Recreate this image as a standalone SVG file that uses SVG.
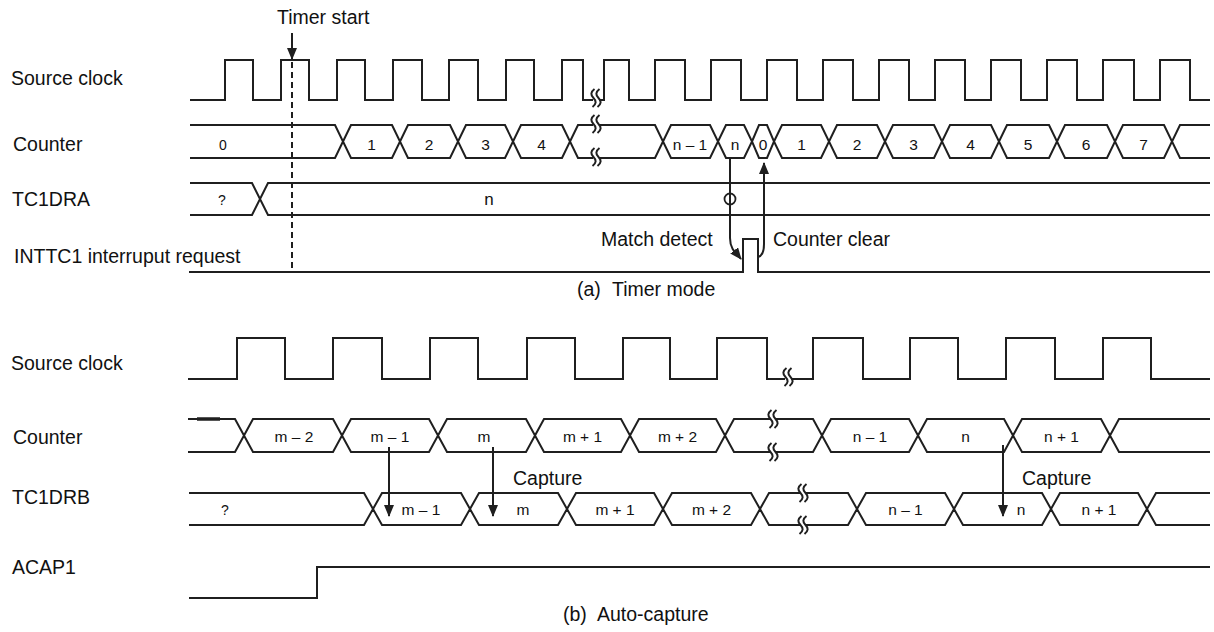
<svg xmlns="http://www.w3.org/2000/svg" width="1214" height="632" viewBox="0 0 1214 632">
<style>
  .sig{fill:none;stroke:#1f1f1f;stroke-width:2;stroke-linejoin:miter}
  .lbl{font-family:"Liberation Sans",Arial,sans-serif;font-size:19.5px;fill:#111}
  .val{font-family:"Liberation Sans",Arial,sans-serif;font-size:15.5px;fill:#111;text-anchor:middle}
  .sm{font-size:14px}
  .big{font-size:17px}
  .con{fill:none;stroke:#1f1f1f;stroke-width:2}
  .dash{fill:none;stroke:#1f1f1f;stroke-width:2;stroke-dasharray:6 4}
  .brkw{fill:#fff;stroke:none}
  .brkl{fill:none;stroke:#1f1f1f;stroke-width:2}
</style>
<defs>
  <marker id="ah" viewBox="0 0 12 10" markerWidth="12" markerHeight="10" refX="11" refY="5" orient="auto" markerUnits="userSpaceOnUse">
    <path d="M0,0 L12,5 L0,10 Z" fill="#1f1f1f"/>
  </marker>
  <g id="brk">
    <rect class="brkw" x="-3" y="-4" width="6" height="8"/>
    <path class="brkl" d="M-1.5,-9 C-5.5,-6 -5.5,-3 -2.5,0 C0.5,3 0.5,6 -3.5,9"/>
    <path class="brkl" d="M3.5,-9 C-0.5,-6 -0.5,-3 2.5,0 C5.5,3 5.5,6 1.5,9"/>
  </g>
</defs>

<rect width="1214" height="632" fill="#fff"/>

<!-- ===== (a) Timer mode ===== -->
<text class="lbl" x="277" y="24">Timer start</text>

<g id="a-source-clock">
  <text class="lbl" x="11" y="85">Source clock</text>
  <path class="sig" d="M190,100 H225 V60 H253 V100 H281 V60 H309 V100 H337 V60 H365 V100 H393 V60 H422 V100 H449 V60 H478 V100 H506 V60 H534 V100 H562 V60 H583 V100 H604 V60 H629 V100 H655 V60 H685 V100 H711 V60 H741 V100 H767 V60 H797 V100 H823 V60 H853 V100 H879 V60 H909 V100 H935 V60 H965 V100 H991 V60 H1021 V100 H1047 V60 H1077 V100 H1103 V60 H1134 V100 H1160 V60 H1190 V100 H1210"/>
  <use href="#brk" x="596" y="98"/>
</g>

<g id="a-counter">
  <text class="lbl" x="13" y="151">Counter</text>
  <path class="sig" d="M190,125 H335 L343,141.5 L335,158 H190
    M343,141.5 L351,125 H392 L400,141.5 L392,158 H351 Z
    M400,141.5 L408,125 H450 L458,141.5 L450,158 H408 Z
    M458,141.5 L466,125 H505 L513,141.5 L505,158 H466 Z
    M513,141.5 L521,125 H562 L570,141.5 L562,158 H521 Z
    M570,141.5 L578,125 H655 L663,141.5 L655,158 H578 Z
    M663,141.5 L671,125 H710 L718,141.5 L710,158 H671 Z
    M718,141.5 L726,125 H744 L752,141.5 L744,158 H726 Z
    M752,141.5 L759,125 H767 L774,141.5 L767,158 H759 Z
    M774,141.5 L782,125 H821 L829,141.5 L821,158 H782 Z
    M829,141.5 L837,125 H877 L885,141.5 L877,158 H837 Z
    M885,141.5 L893,125 H934 L942,141.5 L934,158 H893 Z
    M942,141.5 L950,125 H991 L999,141.5 L991,158 H950 Z
    M999,141.5 L1007,125 H1049 L1057,141.5 L1049,158 H1007 Z
    M1057,141.5 L1065,125 H1107 L1115,141.5 L1107,158 H1065 Z
    M1115,141.5 L1123,125 H1164 L1172,141.5 L1164,158 H1123 Z
    M1210,125 H1180 L1172,141.5 L1180,158 H1210"/>
  <use href="#brk" x="596" y="124"/>
  <use href="#brk" x="596" y="157"/>
  <text class="val sm" x="223" y="150">0</text>
  <text class="val" x="371.5" y="149.5">1</text>
  <text class="val" x="429" y="149.5">2</text>
  <text class="val" x="485.5" y="149.5">3</text>
  <text class="val" x="541.5" y="149.5">4</text>
  <text class="val" x="690" y="149.5">n – 1</text>
  <text class="val" x="735" y="149.5">n</text>
  <text class="val" x="763" y="149.5">0</text>
  <text class="val" x="801.5" y="149.5">1</text>
  <text class="val" x="857" y="149.5">2</text>
  <text class="val" x="913.5" y="149.5">3</text>
  <text class="val" x="970.5" y="149.5">4</text>
  <text class="val" x="1028" y="149.5">5</text>
  <text class="val" x="1086" y="149.5">6</text>
  <text class="val" x="1143.5" y="149.5">7</text>
</g>

<g id="a-tc1dra">
  <text class="lbl" x="12" y="206">TC1DRA</text>
  <path class="sig" d="M190,183 H252 L260,199 L252,215 H190 M1210,183 H268 L260,199 L268,215 H1210"/>
  <text class="val sm" x="222" y="205">?</text>
  <text class="val big" x="489" y="205">n</text>
  <circle cx="730" cy="199" r="5.5" fill="none" stroke="#1f1f1f" stroke-width="1.8"/>
</g>

<g id="a-inttc1">
  <text class="lbl" x="14" y="263">INTTC1 interruput request</text>
  <path class="sig" d="M189,272 H743 V239 H758 V272 H1210"/>
  <text class="lbl" x="601" y="246">Match detect</text>
  <text class="lbl" x="773" y="246">Counter clear</text>
</g>

<text class="lbl" y="296"><tspan x="577">(a)</tspan><tspan x="612">Timer mode</tspan></text>

<!-- ===== (b) Auto-capture ===== -->
<g id="b-source-clock">
  <text class="lbl" x="11" y="370">Source clock</text>
  <path class="sig" d="M188,379 H237 V338 H285 V379 H333 V338 H382 V379 H430 V338 H478 V379 H527 V338 H575 V379 H623 V338 H670 V379 H717 V338 H767 V379 H813 V338 H863 V379 H910 V338 H958 V379 H1006 V338 H1055 V379 H1103 V338 H1151 V379 H1210"/>
  <use href="#brk" x="788" y="377"/>
</g>

<g id="b-counter">
  <text class="lbl" x="13" y="444">Counter</text>
  <path class="sig" d="M188,419 H235 L244,435.5 L235,452 H188
    M244,435.5 L253,419 H333 L342,435.5 L333,452 H253 Z
    M342,435.5 L351,419 H429 L438,435.5 L429,452 H351 Z
    M438,435.5 L447,419 H526 L535,435.5 L526,452 H447 Z
    M535,435.5 L544,419 H621 L630,435.5 L621,452 H544 Z
    M630,435.5 L639,419 H716 L725,435.5 L716,452 H639 Z
    M725,435.5 L734,419 H813 L822,435.5 L813,452 H734 Z
    M822,435.5 L831,419 H909 L918,435.5 L909,452 H831 Z
    M918,435.5 L927,419 H1004 L1013,435.5 L1004,452 H927 Z
    M1013,435.5 L1022,419 H1101 L1110,435.5 L1101,452 H1022 Z
    M1210,419 H1119 L1110,435.5 L1119,452 H1210"/>
  <path d="M197,419 H220" stroke="#1f1f1f" stroke-width="3.5"/>
  <use href="#brk" x="773" y="419"/>
  <use href="#brk" x="773" y="452"/>
  <text class="val" x="294" y="442">m – 2</text>
  <text class="val" x="390" y="442">m – 1</text>
  <text class="val" x="484" y="442">m</text>
  <text class="val" x="582.5" y="442">m + 1</text>
  <text class="val" x="677.5" y="442">m + 2</text>
  <text class="val" x="870" y="442">n – 1</text>
  <text class="val" x="965.5" y="442">n</text>
  <text class="val" x="1061.5" y="442">n + 1</text>
</g>

<g id="b-tc1drb">
  <text class="lbl" x="12" y="504">TC1DRB</text>
  <path class="sig" d="M189,493 H364 L373,509 L364,525 H189
    M373,509 L382,493 H461 L470,509 L461,525 H382 Z
    M470,509 L479,493 H558 L567,509 L558,525 H479 Z
    M567,509 L576,493 H654 L663,509 L654,525 H576 Z
    M663,509 L672,493 H751 L760,509 L751,525 H672 Z
    M760,509 L769,493 H848 L857,509 L848,525 H769 Z
    M857,509 L866,493 H945 L954,509 L945,525 H866 Z
    M954,509 L963,493 H1042 L1051,509 L1042,525 H963 Z
    M1051,509 L1060,493 H1138 L1147,509 L1138,525 H1060 Z
    M1210,493 H1156 L1147,509 L1156,525 H1210"/>
  <use href="#brk" x="803" y="493"/>
  <use href="#brk" x="803" y="525"/>
  <text class="val sm" x="225" y="515">?</text>
  <text class="val" x="421" y="515">m – 1</text>
  <text class="val" x="523" y="515">m</text>
  <text class="val" x="615" y="515">m + 1</text>
  <text class="val" x="711.5" y="515">m + 2</text>
  <text class="val" x="905.5" y="515">n – 1</text>
  <text class="val" x="1021" y="515">n</text>
  <text class="val" x="1099" y="515">n + 1</text>
  <text class="lbl" x="513" y="485">Capture</text>
  <text class="lbl" x="1022" y="485">Capture</text>
</g>

<g id="b-acap1">
  <text class="lbl" x="12" y="574">ACAP1</text>
  <path class="sig" d="M189,598 H317 V567 H1210"/>
</g>

<text class="lbl" y="621"><tspan x="563">(b)</tspan><tspan x="597">Auto-capture</tspan></text>

<!-- ===== connectors ===== -->
<g id="connectors">
  <path class="con" d="M292,33 V59" marker-end="url(#ah)"/>
  <path class="dash" d="M292,62 V272"/>
  <path class="con" d="M730,158 V238 C730,250 737,254 741,259" marker-end="url(#ah)"/>
  <path class="con" d="M758,257 C762,256 764,252 764,244 V163" marker-end="url(#ah)"/>
  <path class="con" d="M389,447 V516" marker-end="url(#ah)"/>
  <path class="con" d="M493,447 V516" marker-end="url(#ah)"/>
  <path class="con" d="M1003,445 V516" marker-end="url(#ah)"/>
</g>
</svg>
